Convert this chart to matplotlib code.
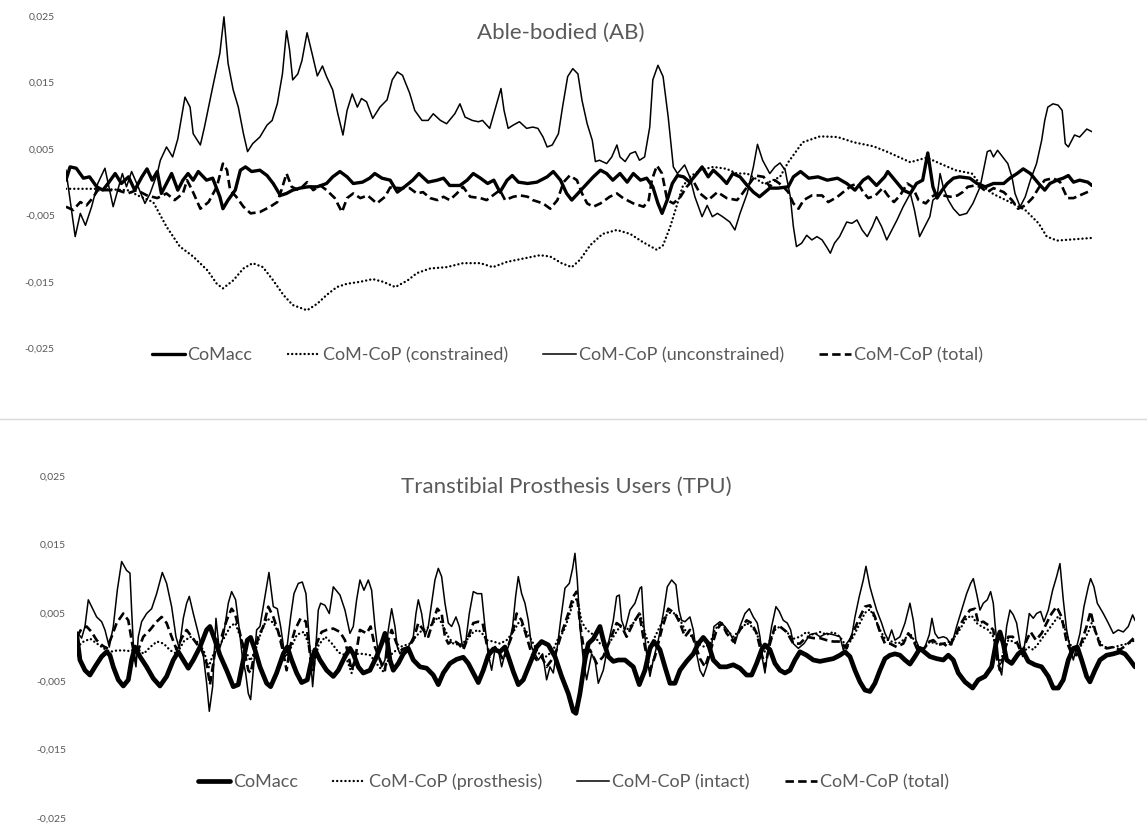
import matplotlib
matplotlib.use("Agg")
import matplotlib.pyplot as plt
from matplotlib.lines import Line2D

plt.rcParams['font.family'] = ['Lato', 'DejaVu Sans']

GRAY = '#595959'

# ---------------- Able-bodied (AB) : x = % of trial, y = value ----------------
ab_comacc = [
    (0, 0.0003), (0.4, 0.0023), (1.0, 0.0021), (1.7, 0.0006), (2.3, 0.0008), (3.0, -0.0007), (3.6, -0.0012),
    (4.1, -0.0002), (4.8, 0.0013), (5.4, -0.0002), (6.1, 0.0008), (6.7, -0.0012), (7.4, 0.0008), (7.9, 0.002),
    (8.4, 0.0003), (8.9, 0.0016), (9.3, -0.0017), (9.8, -0.0002), (10.3, 0.0013), (10.9, -0.0012), (11.4, 0.0003),
    (11.9, 0.0013), (12.4, 0.0003), (12.9, 0.0016), (13.7, 0.0003), (14.3, 0.0006), (15.0, -0.0022), (15.3, -0.004),
    (15.8, -0.0027), (16.5, -0.0012), (17.0, 0.0018), (17.5, 0.0023), (18.1, 0.0016), (18.9, 0.0018), (19.6, 0.001),
    (20.2, -0.0002), (20.9, -0.002), (21.5, -0.0017), (22.1, -0.0012), (22.8, -0.0009), (23.6, -0.0007),
    (24.5, -0.0007), (25.4, -0.0002), (26.0, 0.0008), (26.7, 0.0016), (27.4, 0.0008), (28.0, -0.0002), (28.9, 0.0),
    (29.6, 0.0006), (30.1, 0.0013), (30.8, 0.0006), (31.6, 0.0003), (32.3, -0.0015), (33.0, -0.0007), (33.8, 0.0003),
    (34.4, 0.0013), (35.3, 0.0), (36.2, 0.0003), (36.8, 0.0006), (37.4, -0.0005), (38.4, -0.0005), (39.1, 0.0003),
    (39.7, 0.0013), (40.4, 0.0006), (41.1, -0.0002), (41.7, 0.0003), (42.3, -0.0015), (43.0, 0.0003), (43.5, 0.001),
    (44.1, 0.0), (45.0, -0.0002), (45.9, 0.0), (46.9, 0.0008), (47.5, 0.0016), (48.2, 0.0003), (48.8, -0.0017),
    (49.3, -0.0027), (49.9, -0.0017), (50.8, -0.0002), (51.4, 0.0008), (52.1, 0.0018), (52.7, 0.0013), (53.3, 0.0003),
    (54.0, 0.0013), (54.7, 0.0), (55.3, 0.0013), (56.0, 0.0003), (56.6, 0.0006), (57.2, -0.0007), (57.7, -0.0032),
    (58.1, -0.0047), (58.6, -0.0027), (59.1, -0.0002), (59.6, 0.001), (60.2, 0.0008), (60.8, 0.0), (61.5, 0.0013),
    (62.0, 0.0023), (62.6, 0.0008), (63.1, 0.0018), (63.8, 0.0008), (64.4, -0.0002), (65.0, 0.0013), (65.7, 0.0008),
    (66.4, -0.0005), (67.0, -0.0015), (67.6, -0.0022), (68.6, -0.0009), (69.4, -0.0009), (70.4, -0.0007),
    (70.9, 0.0008), (71.6, 0.0016), (72.4, 0.0006), (73.3, 0.0008), (74.2, 0.0003), (75.2, 0.0006), (76.1, -0.0002),
    (76.9, -0.0012), (77.7, 0.0003), (78.2, 0.0008), (79.0, -0.0005), (79.8, 0.0008), (80.1, 0.0016), (80.8, 0.0003),
    (81.6, -0.0012), (82.3, -0.0017), (82.9, -0.0002), (83.5, 0.0003), (84.0, 0.0044), (84.5, -0.0007),
    (84.9, -0.0024), (85.4, -0.0012), (85.9, -0.0002), (86.5, 0.0006), (87.1, 0.0008), (88.1, 0.0006),
    (88.8, -0.0002), (89.6, -0.0007), (90.4, -0.0002), (91.4, -0.0002), (92.0, 0.0006), (92.7, 0.0013),
    (93.3, 0.002), (94.0, 0.0013), (94.8, -0.0002), (95.4, -0.0012), (95.9, -0.0002), (96.6, 0.0003), (97.2, 0.0006),
    (97.7, 0.001), (98.2, 0.0), (98.8, 0.0003), (99.6, 0.0), (100, -0.0005),
]

ab_constrained = [
    (0, -0.001), (3, -0.001), (6, -0.0012), (7.0, -0.002), (8.5, -0.003), (9.8, -0.0067), (11.1, -0.0097),
    (12.4, -0.0112), (13.8, -0.0133), (14.7, -0.0153), (15.3, -0.016), (16.3, -0.0148), (17.3, -0.013),
    (18.2, -0.0122), (19.2, -0.0128), (20.2, -0.0148), (21.2, -0.017), (22.1, -0.0185), (23.5, -0.0193),
    (24.5, -0.0183), (25.4, -0.017), (26.4, -0.0158), (27.4, -0.0153), (28.7, -0.015), (29.9, -0.0146),
    (30.9, -0.015), (32.1, -0.0158), (33.3, -0.0148), (34.2, -0.0137), (35.5, -0.013), (37.1, -0.0128),
    (38.7, -0.0122), (40.4, -0.0122), (41.6, -0.0128), (43.0, -0.012), (44.6, -0.0115), (46.2, -0.011),
    (47.2, -0.0112), (48.3, -0.0122), (49.3, -0.0128), (50.1, -0.0117), (51.1, -0.0095), (52.3, -0.0078),
    (53.7, -0.0072), (55.0, -0.0078), (56.2, -0.009), (57.6, -0.0102), (58.2, -0.0095), (58.9, -0.0067),
    (59.6, -0.0032), (60.1, -0.0007), (60.8, 0.0008), (61.8, 0.0018), (63.1, 0.0023), (64.4, 0.002),
    (65.4, 0.0013), (66.4, 0.0013), (68.1, -0.0003), (69.6, 0.0008), (70.4, 0.003), (71.8, 0.006), (73.5, 0.0069),
    (75.2, 0.0068), (76.8, 0.006), (78.7, 0.0054), (80.0, 0.0046), (82.3, 0.003), (83.9, 0.0037), (85.2, 0.0028),
    (86.7, 0.0018), (88.3, 0.0013), (89.1, -0.0003), (90.4, -0.0018), (92.0, -0.003), (93.5, -0.0042),
    (94.8, -0.0062), (95.6, -0.0082), (96.6, -0.0088), (98.3, -0.0086), (100, -0.0084),
]

ab_unconstrained = [
    (0, 0.0018), (0.9, -0.0082), (1.4, -0.0047), (1.9, -0.0065), (2.5, -0.0037), (3.1, -0.0002), (3.8, 0.0021),
    (4.6, -0.0037), (5.5, 0.0013), (5.9, -0.0007), (6.4, 0.0016), (6.9, -0.0002), (7.7, -0.0032), (8.2, -0.0017),
    (8.9, 0.0013), (9.2, 0.0033), (9.8, 0.0053), (10.4, 0.0038), (10.9, 0.0065), (11.6, 0.0128), (12.1, 0.0113),
    (12.4, 0.0073), (13.1, 0.0056), (13.5, 0.0083), (14.3, 0.0143), (15.0, 0.0194), (15.4, 0.0249), (15.8, 0.0179),
    (16.3, 0.0139), (16.8, 0.0113), (17.3, 0.0073), (17.7, 0.0046), (18.2, 0.0058), (18.9, 0.0068), (19.6, 0.0086),
    (20.1, 0.0093), (20.6, 0.0118), (21.1, 0.0163), (21.5, 0.0228), (21.8, 0.0199), (22.1, 0.0154), (22.6, 0.0163),
    (23.0, 0.0183), (23.5, 0.0225), (24.0, 0.0193), (24.5, 0.016), (25.0, 0.0175), (25.4, 0.0159), (26.0, 0.0139),
    (26.5, 0.0103), (27.0, 0.0071), (27.4, 0.0108), (27.9, 0.0133), (28.4, 0.0113), (28.8, 0.0126), (29.3, 0.0121),
    (29.9, 0.0096), (30.6, 0.0113), (31.3, 0.0124), (31.8, 0.0154), (32.3, 0.0166), (32.8, 0.0161), (33.5, 0.0134),
    (34.0, 0.0108), (34.7, 0.0093), (35.3, 0.0093), (35.8, 0.0103), (36.5, 0.0093), (37.1, 0.0088), (37.9, 0.0103),
    (38.4, 0.0118), (38.9, 0.0098), (39.6, 0.0093), (40.2, 0.0091), (40.6, 0.0093), (41.3, 0.0081), (41.8, 0.0108),
    (42.4, 0.0141), (42.7, 0.0108), (43.1, 0.0081), (43.6, 0.0086), (44.2, 0.0091), (44.9, 0.0081), (45.5, 0.0083),
    (46.0, 0.0081), (46.5, 0.0068), (46.9, 0.0053), (47.4, 0.0056), (48.0, 0.0073), (48.4, 0.0113), (48.9, 0.0159),
    (49.4, 0.0171), (49.9, 0.0163), (50.3, 0.0123), (50.8, 0.0088), (51.3, 0.0063), (51.6, 0.0031), (52.0, 0.0033),
    (52.7, 0.0028), (53.2, 0.0038), (53.7, 0.0056), (54.0, 0.0038), (54.5, 0.0031), (55.0, 0.0043), (55.5, 0.0046),
    (55.9, 0.0033), (56.4, 0.0038), (56.9, 0.0083), (57.2, 0.0154), (57.7, 0.0176), (58.2, 0.0159), (58.7, 0.0098),
    (59.2, 0.0023), (59.6, 0.0013), (60.3, 0.0026), (60.8, 0.0008), (61.3, -0.0022), (62.0, -0.0052),
    (62.5, -0.0035), (63.0, -0.0052), (63.5, -0.0047), (64.0, -0.0052), (64.7, -0.006), (65.2, -0.0072),
    (65.7, -0.0047), (66.4, -0.0017), (67.0, 0.0023), (67.4, 0.0057), (67.9, 0.0033), (68.6, 0.0013),
    (69.1, 0.0023), (69.6, 0.0029), (70.1, 0.0018), (70.6, -0.0022), (70.9, -0.0067), (71.2, -0.0097),
    (71.7, -0.0092), (72.2, -0.008), (72.7, -0.0087), (73.2, -0.0082), (73.7, -0.0087), (74.2, -0.0099),
    (74.5, -0.0107), (74.9, -0.0092), (75.4, -0.0082), (76.1, -0.006), (76.6, -0.0062), (77.1, -0.0057),
    (77.6, -0.0072), (78.1, -0.0082), (78.6, -0.0067), (79.0, -0.0052), (79.5, -0.0067), (80.0, -0.0087),
    (80.5, -0.0072), (81.0, -0.0057), (81.6, -0.0037), (82.3, -0.0017), (82.7, -0.0042), (83.2, -0.0082),
    (83.7, -0.0067), (84.2, -0.0052), (84.5, -0.0027), (84.9, -0.0022), (85.2, 0.0013), (85.5, -0.0007),
    (86.0, -0.0027), (86.5, -0.004), (87.1, -0.005), (87.8, -0.0047), (88.4, -0.0032), (89.1, -0.0007),
    (89.8, 0.0046), (90.1, 0.0048), (90.4, 0.0038), (90.8, 0.0048), (91.3, 0.0038), (91.8, 0.0028), (92.2, 0.0008),
    (92.5, -0.0017), (93.0, -0.0037), (93.5, -0.0022), (94.0, 0.0003), (94.6, 0.0028), (95.1, 0.0063),
    (95.4, 0.0093), (95.7, 0.0113), (96.2, 0.0118), (96.7, 0.0116), (97.1, 0.0108), (97.4, 0.0058), (97.7, 0.0053),
    (98.3, 0.0071), (98.8, 0.0068), (99.5, 0.008), (100, 0.0076),
]

ab_total = [
    (0, -0.0037), (0.7, -0.0042), (1.4, -0.003), (2.0, -0.0035), (2.6, -0.0024), (3.1, -0.0012), (4.0, -0.0012),
    (5.0, -0.0012), (6.0, -0.0017), (6.9, -0.0012), (7.9, -0.002), (8.9, -0.0024), (9.8, -0.0017), (10.6, -0.0027),
    (11.4, -0.0017), (11.8, 0.0003), (12.3, -0.0012), (13.1, -0.004), (13.9, -0.003), (14.7, -0.0007),
    (15.3, 0.0028), (15.7, 0.0018), (16.0, -0.0012), (16.6, -0.0022), (17.3, -0.0037), (18.0, -0.0047),
    (18.9, -0.0045), (19.9, -0.0037), (20.6, -0.003), (21.0, -0.0012), (21.5, 0.0013), (22.0, -0.0007),
    (22.7, -0.0012), (23.5, 0.0), (24.1, -0.0012), (24.8, -0.0005), (25.4, -0.0012), (26.2, -0.0024),
    (26.9, -0.0045), (27.4, -0.0024), (28.0, -0.0017), (28.7, -0.0024), (29.4, -0.002), (30.3, -0.0032),
    (31.1, -0.0022), (31.6, -0.0008), (32.6, -0.0009), (33.5, -0.0009), (34.2, -0.0017), (34.8, -0.0015),
    (35.5, -0.0024), (36.2, -0.0027), (36.8, -0.0022), (37.4, -0.0027), (38.1, -0.0017), (38.7, -0.0007),
    (39.4, -0.0022), (40.4, -0.0024), (41.0, -0.0027), (41.6, -0.002), (42.3, -0.0012), (42.8, -0.0027),
    (43.6, -0.0022), (44.3, -0.002), (45.0, -0.0022), (45.5, -0.0027), (46.5, -0.0032), (47.2, -0.004),
    (47.9, -0.0027), (48.5, 0.0), (49.1, 0.001), (49.8, 0.0003), (50.3, -0.0017), (50.8, -0.0032), (51.4, -0.0037),
    (52.1, -0.0032), (53.0, -0.0022), (53.7, -0.0017), (54.3, -0.0024), (55.3, -0.0032), (56.3, -0.0037),
    (56.8, -0.0027), (57.1, 0.0003), (57.6, 0.0025), (58.1, 0.0013), (58.6, -0.0027), (59.2, -0.0032),
    (59.9, -0.0022), (60.5, -0.0007), (61.1, 0.0003), (61.8, -0.0017), (62.6, -0.0027), (63.5, -0.0015),
    (64.4, -0.0024), (65.4, -0.0027), (65.7, -0.0022), (66.4, -0.0007), (67.2, 0.001), (68.0, 0.0008),
    (68.6, -0.0007), (69.1, 0.0003), (69.8, -0.0005), (70.4, -0.0015), (70.9, -0.0032), (71.4, -0.004),
    (71.9, -0.0027), (72.7, -0.002), (73.7, -0.002), (74.3, -0.003), (75.2, -0.0022), (76.0, -0.0012),
    (76.6, -0.0005), (77.2, -0.0002), (77.7, -0.0015), (78.2, -0.0024), (78.9, -0.002), (79.6, -0.0009),
    (80.1, -0.002), (80.7, -0.003), (81.3, -0.002), (82.0, -0.0002), (82.5, -0.0007), (83.1, -0.0027),
    (83.8, -0.0032), (84.4, -0.0022), (84.9, -0.0017), (85.5, -0.002), (86.2, -0.0022), (86.9, -0.002),
    (87.4, -0.0015), (87.9, -0.0007), (88.6, -0.0005), (89.1, -0.0007), (89.8, -0.0015), (90.4, -0.0009),
    (91.4, -0.0015), (92.2, -0.0027), (92.8, -0.004), (93.5, -0.0035), (94.2, -0.0024), (94.8, -0.0009),
    (95.4, 0.0003), (96.2, 0.0006), (96.9, 0.0), (97.6, -0.0024), (98.2, -0.0024), (98.8, -0.002), (100, -0.0012),
]

# ---------------- Transtibial prosthesis users (TPU) : x = frame, y = value ----------------
tpu_comacc = [
    (0, 0.0015), (9, -0.0019), (24, -0.0034), (39, -0.0041), (54, -0.0029), (74, -0.0014), (89, -0.0007),
    (99, -0.0012), (109, -0.0029), (124, -0.0048), (139, -0.0057), (154, -0.0048), (164, -0.0019), (174, 0.0),
    (189, -0.0014), (209, -0.0029), (229, -0.0046), (249, -0.0057), (269, -0.0043), (289, -0.0019), (304, -0.0007),
    (319, -0.0019), (334, -0.0031), (349, -0.0019), (369, 0.0), (389, 0.0025), (399, 0.003), (414, 0.001),
    (429, -0.0012), (449, -0.0034), (469, -0.0058), (484, -0.0055), (499, -0.0019), (511, 0.001), (521, 0.0014),
    (534, -0.0004), (549, -0.0029), (569, -0.0053), (581, -0.0058), (599, -0.0038), (619, -0.001), (631, 0.0),
    (644, -0.0019), (659, -0.0038), (674, -0.0052), (691, -0.0048), (704, -0.0019), (714, -0.0004), (729, -0.0019),
    (749, -0.0034), (769, -0.0043), (784, -0.0034), (804, -0.0014), (819, -0.0002), (829, -0.001), (844, -0.0029),
    (859, -0.0038), (879, -0.0034), (899, -0.0014), (914, 0.0005), (924, 0.002), (932, 0.0005), (939, -0.0019),
    (949, -0.0034), (964, -0.0024), (979, -0.001), (994, -0.0002), (1009, -0.0019), (1029, -0.0029),
    (1049, -0.0031), (1069, -0.0041), (1084, -0.0055), (1099, -0.0038), (1119, -0.0024), (1139, -0.0018),
    (1159, -0.0015), (1174, -0.0024), (1189, -0.0038), (1204, -0.0052), (1219, -0.0034), (1234, -0.0012),
    (1249, -0.0003), (1269, -0.0007), (1284, 0.0), (1294, -0.0014), (1309, -0.0036), (1324, -0.0055),
    (1339, -0.0048), (1359, -0.0024), (1379, 0.0), (1394, 0.0008), (1414, 0.0003), (1434, -0.0014),
    (1454, -0.0043), (1474, -0.0068), (1489, -0.0094), (1497, -0.0097), (1509, -0.0068), (1524, -0.0019),
    (1534, 0.0005), (1549, 0.0012), (1569, 0.003), (1579, 0.001), (1594, -0.0014), (1609, -0.0021),
    (1624, -0.0019), (1644, -0.0019), (1669, -0.0029), (1687, -0.0055), (1704, -0.0034), (1719, -0.0002),
    (1731, 0.0008), (1749, -0.0004), (1764, -0.0029), (1779, -0.0053), (1794, -0.0053), (1809, -0.0034),
    (1829, -0.0021), (1849, -0.001), (1864, 0.0005), (1879, 0.0014), (1894, 0.0005), (1909, -0.0019),
    (1929, -0.0029), (1949, -0.0029), (1969, -0.0026), (1989, -0.0031), (2009, -0.0041), (2024, -0.0041),
    (2039, -0.0024), (2054, -0.0004), (2064, 0.0003), (2079, -0.0004), (2094, -0.0024), (2109, -0.0034),
    (2124, -0.0038), (2139, -0.0034), (2154, -0.0019), (2169, -0.0007), (2189, -0.0012), (2209, -0.0019),
    (2229, -0.0021), (2249, -0.0019), (2269, -0.0017), (2289, -0.0012), (2304, -0.0007), (2319, -0.0014),
    (2334, -0.0034), (2349, -0.0051), (2364, -0.0063), (2379, -0.0065), (2394, -0.0053), (2409, -0.0034),
    (2424, -0.0017), (2439, -0.0012), (2454, -0.001), (2469, -0.0012), (2484, -0.0019), (2499, -0.0025),
    (2514, -0.0014), (2529, -0.0002), (2544, -0.0008), (2559, -0.0014), (2579, -0.0017), (2599, -0.0019),
    (2614, -0.0012), (2629, -0.0019), (2644, -0.0038), (2664, -0.0051), (2687, -0.006), (2704, -0.0048),
    (2724, -0.0043), (2744, -0.0029), (2757, 0.0005), (2769, 0.0022), (2779, 0.0005), (2789, -0.0019),
    (2804, -0.0024), (2824, -0.001), (2837, -0.0005), (2854, -0.0021), (2874, -0.0026), (2894, -0.0029),
    (2914, -0.0043), (2929, -0.006), (2944, -0.006), (2959, -0.0048), (2974, -0.0019), (2989, -0.0002),
    (3001, 0.0), (3014, -0.0019), (3029, -0.0043), (3039, -0.0051), (3054, -0.0034), (3069, -0.0019),
    (3089, -0.0012), (3109, -0.001), (3129, -0.0007), (3144, -0.001), (3159, -0.0019), (3174, -0.0029),
]

tpu_prosthesis = [
    (0, 0.0), (20, 0.0008), (40, 0.0012), (60, 0.0005), (80, -0.0002), (100, -0.0007), (120, -0.0005),
    (140, -0.0005), (160, -0.0006), (180, -0.0002), (200, -0.001), (220, 0.0), (240, 0.0008), (260, 0.0005),
    (280, -0.0005), (300, -0.001), (320, 0.0008), (340, 0.0015), (360, 0.0008), (380, -0.0005), (395, -0.003),
    (405, -0.0015), (420, -0.0002), (440, 0.0012), (460, 0.003), (475, 0.0035), (490, 0.0015), (505, -0.0005),
    (520, -0.002), (535, -0.0005), (550, 0.0018), (570, 0.0042), (590, 0.0035), (610, 0.0015), (625, -0.0015),
    (640, -0.0003), (660, 0.0018), (680, 0.0022), (695, 0.0005), (710, -0.0025), (725, 0.0003), (745, 0.0015),
    (765, 0.0005), (785, -0.0008), (805, -0.0012), (824, -0.0038), (840, -0.001), (860, -0.001), (880, -0.0012),
    (900, -0.0025), (919, -0.0036), (940, -0.0012), (969, 0.0), (999, 0.0005), (1029, 0.0022), (1059, 0.003),
    (1084, 0.0044), (1099, 0.003), (1114, 0.0015), (1129, 0.0005), (1149, 0.0003), (1169, 0.001), (1189, 0.0022),
    (1204, 0.0025), (1219, 0.0018), (1229, 0.001), (1249, 0.0008), (1269, 0.0005), (1289, 0.001), (1309, 0.0022),
    (1324, 0.0035), (1339, 0.003), (1354, 0.0018), (1369, 0.0005), (1389, -0.0012), (1409, -0.0014),
    (1429, -0.0004), (1444, 0.0013), (1459, 0.0022), (1474, 0.0042), (1489, 0.0066), (1501, 0.0071),
    (1514, 0.0037), (1529, 0.0025), (1549, 0.0018), (1569, 0.0005), (1589, 0.0), (1609, 0.0015), (1629, 0.003),
    (1649, 0.0025), (1669, 0.0035), (1689, 0.0049), (1704, 0.002), (1719, 0.0), (1734, 0.0015), (1749, 0.003),
    (1764, 0.0045), (1779, 0.005), (1794, 0.0049), (1809, 0.004), (1824, 0.0025), (1839, 0.0018), (1854, 0.001),
    (1869, 0.0003), (1884, 0.0), (1899, 0.0005), (1914, 0.0025), (1929, 0.0035), (1949, 0.0025), (1969, 0.0015),
    (1989, 0.0025), (2009, 0.0035), (2024, 0.003), (2039, 0.002), (2054, 0.0), (2064, -0.0007), (2079, 0.001),
    (2094, 0.0025), (2109, 0.003), (2129, 0.0022), (2149, 0.0012), (2169, 0.0015), (2189, 0.0022), (2209, 0.0018),
    (2229, 0.0022), (2249, 0.0018), (2269, 0.0022), (2289, 0.0015), (2309, 0.0), (2329, 0.0015), (2349, 0.0035),
    (2364, 0.005), (2379, 0.0055), (2394, 0.0042), (2409, 0.0025), (2424, 0.0012), (2444, 0.0008), (2464, 0.0005),
    (2484, 0.0012), (2499, 0.002), (2514, 0.0008), (2529, -0.0004), (2544, 0.0), (2559, 0.0008), (2574, 0.0005),
    (2599, 0.0005), (2619, 0.0008), (2639, 0.0018), (2654, 0.003), (2669, 0.0042), (2684, 0.0046), (2699, 0.0035),
    (2714, 0.003), (2734, 0.0025), (2749, 0.0015), (2761, -0.001), (2769, -0.0025), (2781, -0.0005), (2794, 0.001),
    (2809, 0.0008), (2824, 0.0003), (2839, -0.0008), (2854, 0.0), (2869, -0.0004), (2884, 0.0005), (2899, 0.0015),
    (2914, 0.0025), (2929, 0.0035), (2944, 0.0045), (2959, 0.0035), (2974, 0.001), (2989, -0.0005),
    (3004, -0.0005), (3019, 0.0008), (3034, 0.0022), (3044, 0.0035), (3059, 0.0018), (3074, 0.0003),
    (3094, -0.0002), (3114, 0.0), (3134, 0.0003), (3154, 0.0005), (3174, 0.001),
]

tpu_intact = [
    (0, 0.0022), (14, 0.0013), (24, 0.003), (34, 0.0069), (44, 0.0059), (59, 0.0044), (74, 0.0037), (84, 0.0025),
    (97, 0.0), (109, 0.003), (121, 0.0083), (134, 0.0125), (149, 0.0112), (159, 0.0108), (164, 0.0054),
    (171, -0.0014), (177, -0.0029), (184, 0.0015), (194, 0.0037), (209, 0.0049), (224, 0.0056), (239, 0.0078),
    (256, 0.0109), (269, 0.0093), (284, 0.0059), (297, 0.0015), (307, -0.0002), (319, 0.0042), (329, 0.0064),
    (337, 0.0074), (349, 0.0049), (364, 0.002), (379, -0.0012), (389, -0.0053), (397, -0.0094), (407, -0.0058),
    (417, 0.0042), (427, -0.0004), (439, 0.0015), (454, 0.0064), (464, 0.0081), (476, 0.0069), (486, 0.003),
    (496, -0.0014), (506, -0.0038), (514, -0.0068), (521, -0.0077), (529, -0.0034), (539, 0.0025), (549, 0.003),
    (564, 0.0074), (576, 0.0109), (589, 0.0059), (601, 0.0056), (611, 0.003), (621, -0.0004), (631, 0.0003),
    (641, 0.0044), (651, 0.0078), (664, 0.0093), (676, 0.0095), (687, 0.0078), (694, 0.003), (701, -0.0019),
    (707, -0.0058), (714, -0.0019), (724, 0.0054), (731, 0.0064), (744, 0.0061), (757, 0.0049), (769, 0.0088),
    (789, 0.0076), (804, 0.0054), (819, 0.002), (829, 0.003), (839, 0.0069), (849, 0.0098), (861, 0.0083),
    (874, 0.0098), (884, 0.0083), (894, 0.003), (904, -0.001), (914, -0.0029), (924, -0.0019), (934, 0.0025),
    (944, 0.0056), (954, 0.003), (961, 0.0), (969, -0.001), (979, -0.0002), (994, 0.0), (1009, 0.0015),
    (1017, 0.0049), (1024, 0.0069), (1034, 0.0049), (1044, 0.0015), (1054, 0.003), (1064, 0.0064), (1074, 0.0098),
    (1084, 0.0115), (1094, 0.0103), (1104, 0.0064), (1114, 0.0035), (1124, 0.003), (1137, 0.0044), (1147, 0.003),
    (1157, 0.0), (1167, 0.001), (1177, 0.0049), (1189, 0.0081), (1201, 0.0078), (1214, 0.0078), (1224, 0.003),
    (1234, -0.001), (1244, -0.0034), (1254, -0.0004), (1264, -0.0004), (1274, -0.0029), (1284, -0.001),
    (1294, 0.0), (1307, 0.003), (1316, 0.0074), (1324, 0.0103), (1334, 0.0078), (1344, 0.0064), (1354, 0.0039),
    (1364, 0.0), (1374, -0.001), (1384, -0.0019), (1397, -0.001), (1409, -0.0048), (1419, -0.0029),
    (1429, -0.0038), (1441, 0.0), (1451, 0.0039), (1464, 0.0086), (1477, 0.0093), (1487, 0.0115), (1494, 0.0137),
    (1501, 0.0098), (1509, 0.003), (1519, -0.0019), (1529, -0.0048), (1544, -0.001), (1554, -0.0019),
    (1564, -0.0053), (1579, -0.0034), (1594, 0.0005), (1609, 0.0039), (1619, 0.0074), (1627, 0.0076),
    (1634, 0.0039), (1644, 0.0025), (1659, 0.0054), (1674, 0.0064), (1689, 0.0086), (1694, 0.0088), (1701, 0.003),
    (1709, -0.001), (1719, -0.0043), (1729, -0.0019), (1744, 0.001), (1759, 0.0049), (1771, 0.0088),
    (1784, 0.0098), (1797, 0.0091), (1806, 0.0054), (1814, 0.0039), (1824, 0.0037), (1839, 0.0044),
    (1849, 0.0025), (1859, -0.001), (1869, -0.0034), (1879, -0.0043), (1889, -0.0029), (1901, -0.001),
    (1911, 0.003), (1929, 0.0037), (1944, 0.003), (1959, 0.002), (1974, 0.0005), (1989, 0.003), (2004, 0.0049),
    (2017, 0.0056), (2029, 0.0044), (2041, 0.0035), (2049, 0.0015), (2057, -0.0019), (2064, -0.0038), (2074, 0.0),
    (2084, 0.003), (2097, 0.0059), (2107, 0.0052), (2119, 0.0039), (2131, 0.0035), (2141, 0.0025), (2149, 0.0005),
    (2164, -0.0002), (2181, 0.0005), (2199, 0.0018), (2214, 0.002), (2229, 0.0015), (2249, 0.002), (2269, 0.0018),
    (2289, 0.0015), (2299, -0.0004), (2309, 0.0005), (2324, 0.0015), (2334, 0.0044), (2347, 0.0074),
    (2359, 0.0098), (2367, 0.0118), (2379, 0.0088), (2387, 0.0074), (2399, 0.0054), (2414, 0.0035),
    (2424, 0.002), (2434, 0.001), (2444, 0.0025), (2454, 0.001), (2469, 0.0015), (2484, 0.0035), (2499, 0.0064),
    (2509, 0.0039), (2517, 0.001), (2529, -0.0004), (2544, 0.0), (2557, 0.0018), (2565, 0.0042), (2574, 0.002),
    (2584, 0.0013), (2599, 0.0015), (2609, 0.0013), (2624, 0.0003), (2639, 0.003), (2654, 0.0054), (2669, 0.0078),
    (2681, 0.0093), (2689, 0.01), (2699, 0.0078), (2709, 0.0054), (2719, 0.0064), (2731, 0.0069), (2741, 0.0081),
    (2749, 0.0064), (2754, 0.0035), (2761, 0.0), (2767, -0.0029), (2774, -0.0041), (2781, -0.001), (2789, 0.003),
    (2799, 0.0054), (2809, 0.0047), (2819, 0.0035), (2829, 0.0005), (2837, -0.0014), (2847, 0.0015),
    (2857, 0.0049), (2869, 0.0042), (2879, 0.0049), (2891, 0.0052), (2901, 0.0037), (2914, 0.0054),
    (2927, 0.0083), (2939, 0.0103), (2949, 0.0122), (2959, 0.0069), (2969, 0.0025), (2979, 0.0), (2989, -0.0019),
    (2999, 0.0), (3009, 0.002), (3021, 0.0059), (3034, 0.0088), (3041, 0.01), (3051, 0.0088), (3061, 0.0064),
    (3079, 0.0049), (3094, 0.0035), (3109, 0.002), (3124, 0.0025), (3139, 0.0022), (3154, 0.003), (3167, 0.0047),
    (3174, 0.0039),
]

tpu_total = [
    (0, 0.0015), (14, 0.0027), (29, 0.003), (44, 0.0022), (59, 0.001), (74, 0.0003), (89, -0.0002), (104, 0.0015),
    (119, 0.0035), (139, 0.0049), (154, 0.0039), (164, 0.001), (174, -0.0019), (184, -0.0004), (199, 0.0015),
    (219, 0.0025), (239, 0.0037), (254, 0.0044), (269, 0.0035), (284, 0.0015), (299, -0.0004), (314, 0.0013),
    (329, 0.0025), (344, 0.0015), (359, 0.0005), (374, -0.0004), (389, -0.0024), (399, -0.0055), (409, -0.0024),
    (419, 0.001), (434, 0.0015), (449, 0.0039), (464, 0.0056), (474, 0.0049), (489, 0.002), (504, -0.001),
    (514, -0.0034), (521, -0.0038), (531, -0.0014), (544, 0.0015), (559, 0.003), (574, 0.0059), (589, 0.0044),
    (604, 0.0022), (617, -0.0004), (629, -0.0034), (639, 0.0), (654, 0.0025), (671, 0.0042), (687, 0.0037),
    (694, 0.001), (701, -0.0019), (709, -0.0034), (719, 0.0005), (734, 0.0022), (749, 0.0025), (769, 0.0027),
    (789, 0.0022), (804, 0.001), (824, -0.0034), (834, -0.0019), (849, 0.0025), (869, 0.002), (881, 0.003),
    (894, 0.0), (909, -0.0019), (924, -0.0034), (934, 0.001), (944, 0.0025), (959, 0.0005), (974, -0.0004),
    (994, 0.0), (1009, 0.001), (1024, 0.0035), (1039, 0.0025), (1054, 0.0015), (1069, 0.0039), (1081, 0.0056),
    (1094, 0.0049), (1104, 0.0015), (1114, 0.0005), (1129, 0.001), (1144, 0.0005), (1159, -0.0004),
    (1174, 0.0015), (1189, 0.0035), (1204, 0.0037), (1217, 0.0035), (1229, 0.0005), (1239, -0.0014), (1254, 0.0),
    (1269, -0.001), (1279, -0.0019), (1289, -0.0004), (1304, 0.0015), (1319, 0.0049), (1334, 0.0039),
    (1349, 0.0015), (1364, -0.001), (1379, -0.0019), (1394, -0.0014), (1409, -0.0029), (1424, -0.0019),
    (1439, -0.0004), (1454, 0.002), (1474, 0.0049), (1489, 0.0074), (1499, 0.0081), (1509, 0.0035),
    (1524, -0.0015), (1539, -0.0004), (1559, -0.0024), (1579, -0.0014), (1599, 0.001), (1619, 0.0035),
    (1634, 0.003), (1649, 0.0015), (1669, 0.0035), (1687, 0.0049), (1704, 0.0), (1719, -0.0034), (1734, -0.0014),
    (1754, 0.0025), (1774, 0.0056), (1794, 0.0049), (1809, 0.0035), (1824, 0.0015), (1839, 0.0025),
    (1854, 0.0005), (1869, -0.0017), (1884, -0.0029), (1904, 0.0), (1919, 0.0025), (1934, 0.0035), (1949, 0.002),
    (1969, 0.0008), (1989, 0.0025), (2009, 0.0039), (2024, 0.0035), (2039, 0.002), (2054, -0.001),
    (2064, -0.0029), (2079, 0.0005), (2094, 0.003), (2109, 0.003), (2129, 0.0022), (2149, 0.0005), (2169, 0.0005),
    (2189, 0.0015), (2209, 0.0013), (2229, 0.0013), (2249, 0.001), (2269, 0.0008), (2289, 0.0008),
    (2309, -0.0002), (2329, 0.0022), (2349, 0.0044), (2364, 0.0059), (2379, 0.0061), (2394, 0.0044),
    (2409, 0.0022), (2424, 0.0005), (2439, 0.0005), (2459, 0.0), (2479, 0.0005), (2494, 0.002), (2509, 0.001),
    (2524, -0.0007), (2539, -0.0004), (2557, 0.0008), (2569, 0.001), (2584, 0.0003), (2599, 0.0005), (2614, 0.0),
    (2634, 0.0015), (2649, 0.0032), (2664, 0.0044), (2679, 0.0054), (2694, 0.0056), (2704, 0.0035),
    (2719, 0.0037), (2734, 0.0032), (2749, 0.0025), (2761, -0.0019), (2769, -0.0034), (2781, -0.001),
    (2794, 0.0015), (2807, 0.0015), (2819, 0.0008), (2834, -0.001), (2849, 0.001), (2861, 0.0022), (2877, 0.001),
    (2894, 0.002), (2909, 0.0035), (2924, 0.0049), (2939, 0.0059), (2954, 0.0044), (2969, 0.0008),
    (2984, -0.001), (2999, -0.0012), (3014, 0.0008), (3029, 0.003), (3041, 0.0052), (3054, 0.0025),
    (3069, 0.0003), (3089, -0.0002), (3109, 0.0), (3129, -0.0004), (3149, 0.0003), (3164, 0.001), (3174, 0.0015),
]

y_ticks = [0.025, 0.015, 0.005, -0.005, -0.015, -0.025]
y_ticklabels = ["0,025", "0,015", "0,005", "-0,005", "-0,015", "-0,025"]

ab_title = "Able-bodied (AB)"
tpu_title = "Transtibial Prosthesis Users (TPU)"
ab_labels = ["CoMacc", "CoM-CoP (constrained)", "CoM-CoP (unconstrained)", "CoM-CoP (total)"]
tpu_labels = ["CoMacc", "CoM-CoP (prosthesis)", "CoM-CoP (intact)", "CoM-CoP (total)"]

DOT = (0, (0.05, 1.7))
DASH = (0, (3.2, 1.6))


def xy(pairs):
    xs, ys = zip(*pairs)
    return list(xs), list(ys)


def style_axes(ax, xmax):
    ax.set_xlim(0, xmax)
    ax.set_ylim(-0.025, 0.025)
    ax.set_yticks(y_ticks)
    ax.set_yticklabels(y_ticklabels)
    ax.set_xticks([])
    for s in ax.spines.values():
        s.set_visible(False)
    ax.tick_params(axis='y', length=0, pad=8, labelsize=7.5, labelcolor=GRAY)
    ax.patch.set_alpha(0)


fig = plt.figure(figsize=(11.47, 8.25), dpi=100)

# ---- top panel ----
ax1 = fig.add_axes([0.0575, 0.578, 0.8945, 0.4024])
style_axes(ax1, 100)
series_top = [
    (ab_comacc, dict(lw=2.4, ls='-', solid_capstyle='round')),
    (ab_constrained, dict(lw=1.7, ls=DOT, dash_capstyle='round')),
    (ab_unconstrained, dict(lw=1.1, ls='-')),
    (ab_total, dict(lw=1.9, ls=DASH)),
]
handles = []
for (data, kw), lab in zip(series_top, ab_labels):
    xs, ys = xy(data)
    h, = ax1.plot(xs, ys, color='black', label=lab, solid_joinstyle='round', **kw)
    handles.append(h)
ax1.legend(handles=handles, loc='center', bbox_to_anchor=(0.495, 0.5697), bbox_transform=fig.transFigure,
           ncol=4, frameon=False, fontsize=13, handlelength=1.8, handletextpad=0.15, columnspacing=1.95,
           labelcolor=GRAY)
fig.text(0.489, 0.960, ab_title, ha='center', va='center', fontsize=16, color=GRAY)

# separator line between the two charts
fig.add_artist(Line2D([0, 1], [0.492, 0.492], transform=fig.transFigure, color='#d9d9d9', lw=1))

# ---- bottom panel ----
ax2 = fig.add_axes([0.0671, 0.0085, 0.9224, 0.4145])
style_axes(ax2, 3174)
series_bot = [
    (tpu_comacc, dict(lw=3.4, ls='-', solid_capstyle='round')),
    (tpu_prosthesis, dict(lw=1.7, ls=DOT, dash_capstyle='round')),
    (tpu_intact, dict(lw=1.1, ls='-')),
    (tpu_total, dict(lw=1.9, ls=DASH)),
]
handles = []
for (data, kw), lab in zip(series_bot, tpu_labels):
    xs, ys = xy(data)
    h, = ax2.plot(xs, ys, color='black', label=lab, solid_joinstyle='round', **kw)
    handles.append(h)
ax2.legend(handles=handles, loc='center', bbox_to_anchor=(0.5, 0.052), bbox_transform=fig.transFigure,
           ncol=4, frameon=False, fontsize=13, handlelength=1.8, handletextpad=0.15, columnspacing=1.95,
           labelcolor=GRAY)
fig.text(0.494, 0.41, tpu_title, ha='center', va='center', fontsize=16, color=GRAY)

fig.savefig('out.png', dpi=100, facecolor='white')
